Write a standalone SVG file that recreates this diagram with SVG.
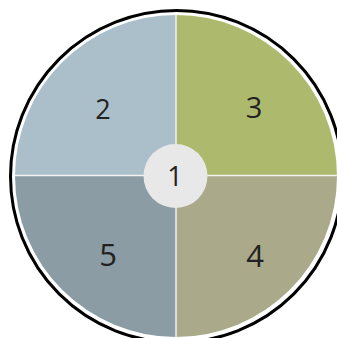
<svg xmlns="http://www.w3.org/2000/svg" width="337" height="338" viewBox="0 0 337 338">
<style>
.lbl{font-family:"Open Sans","Noto Sans",sans-serif;fill:#222;text-anchor:middle}
.div{stroke:#f2f2f2;stroke-width:1.5}
</style>
<defs>
<clipPath id="c"><circle cx="176" cy="176" r="161"/></clipPath>
</defs>
<rect width="337" height="338" fill="#fff"/>
<circle cx="176.5" cy="176.5" r="166" fill="none" stroke="#000" stroke-width="3"/>
<g clip-path="url(#c)">
<g id="n2"><rect x="10" y="10" width="166" height="166" fill="#aabfc9"/><text class="lbl" x="103" y="119" font-size="27">2</text></g>
<g id="n3"><rect x="176" y="10" width="166" height="166" fill="#adb96d"/><text class="lbl" x="254" y="118" font-size="29">3</text></g>
<g id="n4"><rect x="176" y="176" width="166" height="166" fill="#aaaa8b"/><text class="lbl" x="255" y="267" font-size="31">4</text></g>
<g id="n5"><rect x="10" y="176" width="166" height="166" fill="#8b9ca5"/><text class="lbl" x="108" y="266" font-size="31">5</text></g>
</g>
<g id="connectors">
<line class="div" x1="176" y1="15" x2="176" y2="337"/>
<line class="div" x1="15" y1="175.5" x2="337" y2="175.5"/>
</g>
<g id="n1"><circle cx="175.5" cy="176" r="32" fill="#e8e8e8"/><text class="lbl" x="175" y="186" font-size="27">1</text></g>
</svg>
